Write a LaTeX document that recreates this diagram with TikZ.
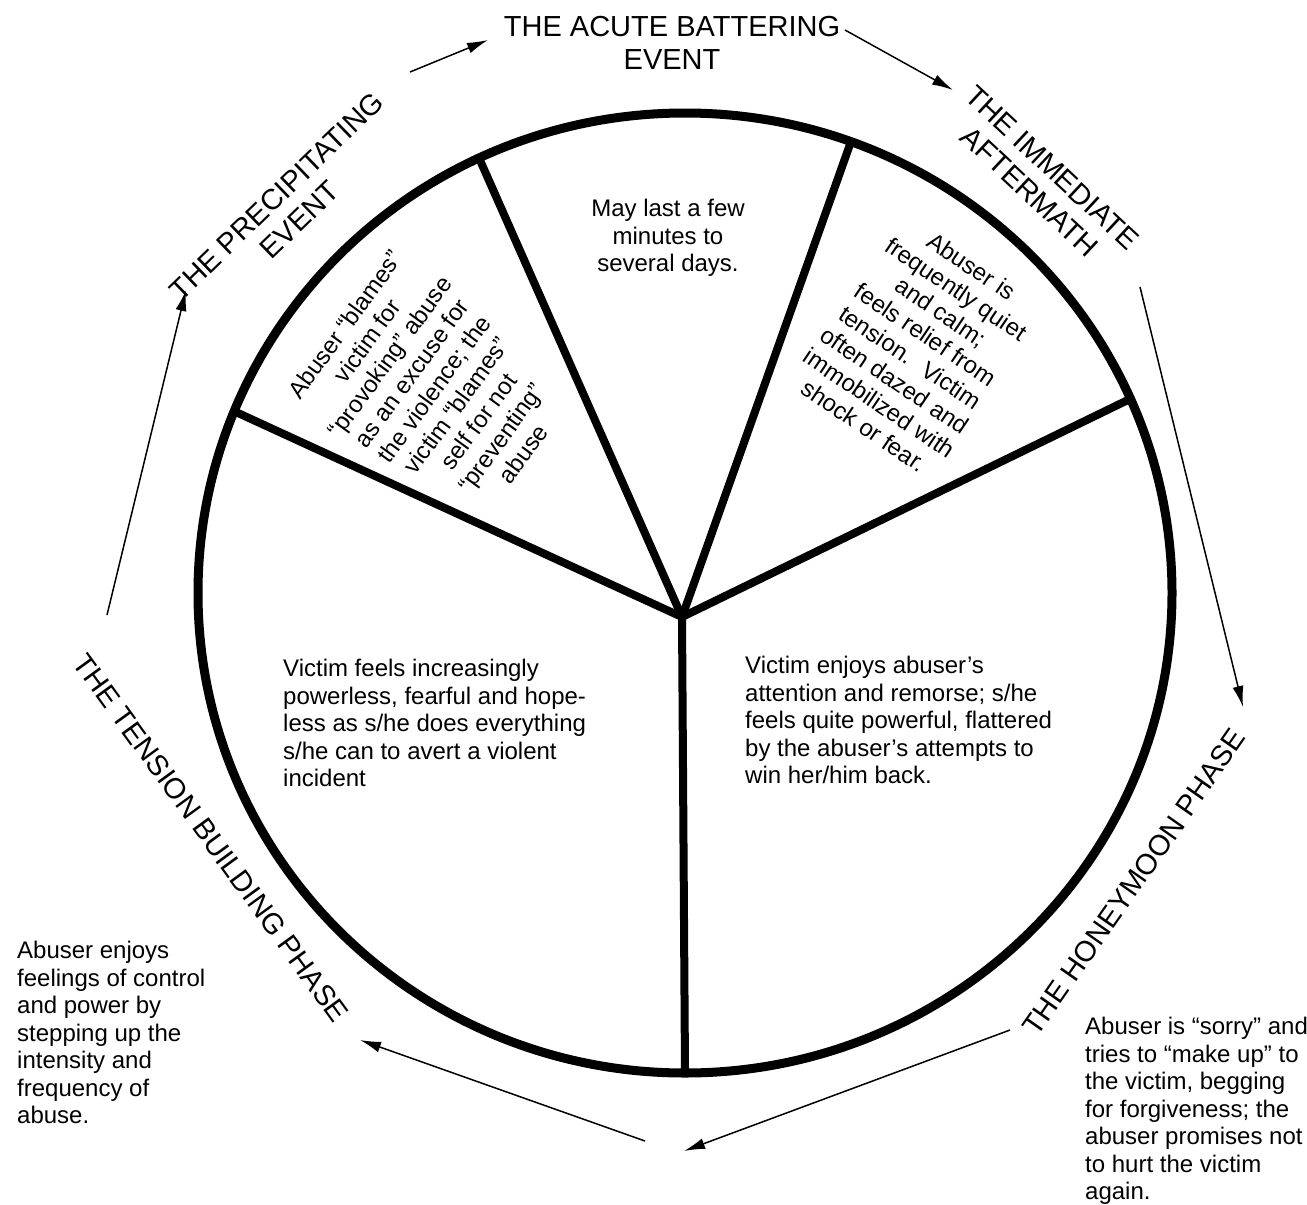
\documentclass[tikz,border=0pt]{standalone}
\usepackage{fontspec}
\setmainfont{Liberation Sans}
\usetikzlibrary{arrows.meta,calc}
\begin{document}
\begin{tikzpicture}[x=1pt,y=-1pt,
  body/.style={font=\fontsize{24}{27.5}\selectfont, inner sep=0pt},
  titletext/.style={font=\fontsize{29}{33}\selectfont, inner sep=0pt, align=center},
  flow/.style={line width=1.5pt, -{Latex[length=21pt,width=11pt]}},
  rim/.style={line width=9pt},
  spoke/.style={line width=8pt, line cap=round}]
\useasboundingbox (0,0) rectangle (1307,1205);
\fill[white] (0,0) rectangle (1307,1205);

% wheel
\coordinate (hub) at (682,617);
\coordinate (e1) at (483,167);
\coordinate (e2) at (848,150);
\coordinate (e3) at (1132,398);
\coordinate (e4) at (238,413);
\coordinate (e5) at (685,1072);
\begin{scope}
  \clip (685,593) ellipse [x radius=487pt, y radius=480pt];
  \foreach \e in {e1,e2,e3,e4,e5}
    \draw[spoke] (hub) -- ($(hub)!1.2!(\e)$);
\end{scope}
\draw[rim] (685,593) ellipse [x radius=487pt, y radius=480pt];

% phase titles
\node[titletext] (acute) at (672,43) {THE ACUTE BATTERING\\EVENT};
\node[titletext, rotate=44] (precip) at (288,208) {THE PRECIPITATING\\EVENT};
\node[titletext, rotate=-43] (after) at (1041,180) {THE IMMEDIATE\\AFTERMATH};
\node[titletext, rotate=-54] (tension) at (211,838) {THE TENSION BUILDING PHASE};
\node[titletext, rotate=55] (honey) at (1134,882) {THE HONEYMOON PHASE};

% wedge texts
\node[body, align=center] (t1) at (668,238) {May last a few\\minutes to\\several days.};
\node[body, align=center, rotate=54] (t2) at (434,389) {Abuser “blames”\\victim for\\“provoking” abuse\\as an excuse for\\the violence; the\\victim “blames”\\self for not\\“preventing”\\abuse};
\node[body, align=center, rotate=-34] (t3) at (918,346) {Abuser is\\frequently quiet\\and calm;\\feels relief from\\tension.~ Victim\\often dazed and\\immobilized with\\shock or fear.};
\node[body, align=left, anchor=north west] (t4) at (283,659) {Victim feels increasingly\\powerless, fearful and hope-\\less as s/he does everything\\s/he can to avert a violent\\incident};
\node[body, align=left, anchor=north west] (t5) at (745,656) {Victim enjoys abuser’s\\attention and remorse; s/he\\feels quite powerful, flattered\\by the abuser’s attempts to\\win her/him back.};

% outer notes
\node[body, align=left, anchor=north west] (n1) at (17,941) {Abuser enjoys\\feelings of control\\and power by\\stepping up the\\intensity and\\frequency of\\abuse.};
\node[body, align=left, anchor=north west] (n2) at (1085,1017) {Abuser is “sorry” and\\tries to “make up” to\\the victim, begging\\for forgiveness; the\\abuser promises not\\to hurt the victim\\again.};

% cycle arrows
\coordinate (a1s) at (107,615);  \coordinate (a1e) at (186,290);
\coordinate (a2s) at (410,72);   \coordinate (a2e) at (488,40);
\coordinate (a3s) at (845,30);   \coordinate (a3e) at (953,90);
\coordinate (a4s) at (1140,287); \coordinate (a4e) at (1243,707);
\coordinate (a5s) at (1010,1030);\coordinate (a5e) at (684,1151);
\coordinate (a6s) at (645,1141); \coordinate (a6e) at (360,1040);
\draw[flow] (a1s) -- (a1e);
\draw[flow] (a2s) -- (a2e);
\draw[flow] (a3s) -- (a3e);
\draw[flow] (a4s) -- (a4e);
\draw[flow] (a5s) -- (a5e);
\draw[flow] (a6s) -- (a6e);
\end{tikzpicture}
\end{document}
